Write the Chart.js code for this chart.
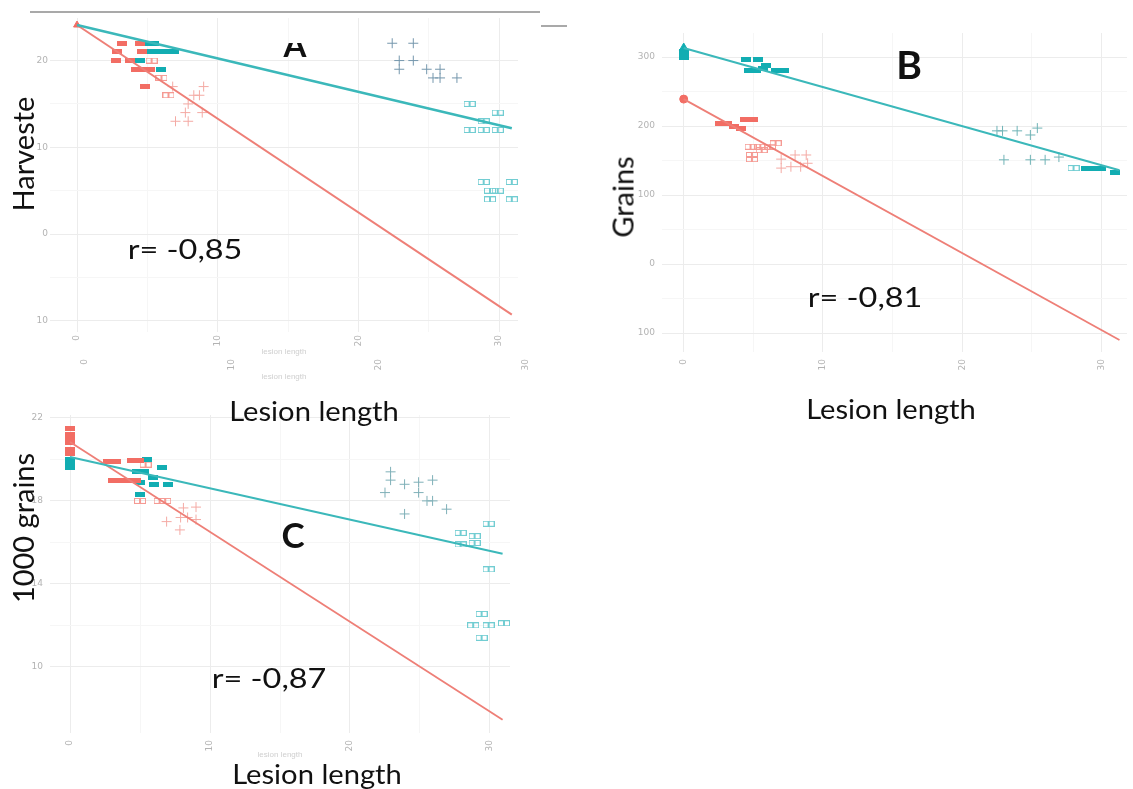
<!DOCTYPE html>
<html>
<head>
<meta charset="utf-8">
<script src="https://cdn.jsdelivr.net/npm/chart.js@4.4.1/dist/chart.umd.min.js"></script>
<style>
  html, body { margin: 0; padding: 0; background: #fff; }
  #page { position: relative; width: 1133px; height: 789px; overflow: hidden; background: #fff; }
  canvas { position: absolute; }
  .lbl { position: absolute; white-space: nowrap; line-height: 1; font-family: Lato, "Open Sans", sans-serif; color: #111; }
  .big { font-weight: 700; }
  .rule { position: absolute; background: #a9a9a9; height: 2px; }
</style>
</head>
<body>
<div id="page">
  <div class="rule" style="left:30px; top:11px; width:510px;"></div>
  <div class="rule" style="left:541px; top:25px; width:26px;"></div>

  <canvas id="chartA" width="530" height="392" style="left:0; top:0;"></canvas>
  <canvas id="chartB" width="533" height="392" style="left:600px; top:0;"></canvas>
  <canvas id="chartC" width="525" height="375" style="left:0; top:395px;"></canvas>

  <!-- panel A -->
  <div style="position:absolute; left:275px; top:43px; width:40px; height:15px; overflow:hidden;">
    <div class="lbl big" style="left:0; top:-15px; width:40px; text-align:center; font-size:33px;">A</div>
  </div>
  <div class="lbl" style="left:22px; top:154px; font-size:29px; transform:translate(-50%,-50%) rotate(-90deg);">Harveste</div>
  <div class="lbl" style="left:185px; top:248px; font-size:27px; transform:translate(-50%,-50%) scaleX(1.2);">r= -0,85</div>
  <div class="lbl" style="left:314px; top:410px; font-size:27px; transform:translate(-50%,-50%) scaleX(1.08);">Lesion length</div>

  <!-- panel B -->
  <div class="lbl big" style="left:909px; top:64px; font-size:39px; transform:translate(-50%,-50%);">B</div>
  <div class="lbl" style="left:622px; top:197px; font-size:29px; transform:translate(-50%,-50%) rotate(-90deg);">Grains</div>
  <div class="lbl" style="left:865px; top:296px; font-size:27px; transform:translate(-50%,-50%) scaleX(1.2);">r= -0,81</div>
  <div class="lbl" style="left:891px; top:408px; font-size:27px; transform:translate(-50%,-50%) scaleX(1.08);">Lesion length</div>

  <!-- panel C -->
  <div class="lbl big" style="left:293px; top:534px; font-size:35px; transform:translate(-50%,-50%);">C</div>
  <div class="lbl" style="left:22px; top:528px; font-size:29px; transform:translate(-50%,-50%) rotate(-90deg);">1000 grains</div>
  <div class="lbl" style="left:269px; top:677px; font-size:27px; transform:translate(-50%,-50%) scaleX(1.2);">r= -0,87</div>
  <div class="lbl" style="left:317px; top:773px; font-size:27px; transform:translate(-50%,-50%) scaleX(1.08);">Lesion length</div>
</div>

<script>
// ---- shared ticks (lesion length) ----
const lesionTicks = [0, 10, 20, 30];
const lesionTickLabels = ['0', '10', '20', '30'];

// ---- A : harvested ----
const aYTicks = [20, 10, 0, -10];
const aYTickLabels = ['20', '10', '0', '10'];
const aRedLine = [[0, 24.1], [30.9, -9.3]];
const aTealLine = [[0, 24.1], [30.9, 12.2]];
const aRedStart = [[0, 24.1]];
const aRedBars = [[3.2, 22], [4.5, 22], [2.85, 21], [4.6, 21], [2.8, 20], [3.8, 20], [4.2, 19], [4.7, 19], [5.2, 19], [4.8, 17]];
const aRedBoxes = [[5.3, 20], [6.0, 18], [6.5, 16]];
const aRedCross = [[6.8, 17], [9.0, 17], [8.3, 16], [8.7, 16], [7.9, 15], [7.7, 14], [8.9, 14], [7.0, 13], [7.9, 13]];
const aTealBars = [[4.9, 22], [5.5, 22], [5.2, 21], [5.8, 21], [6.4, 21], [6.9, 21], [4.5, 20], [5.95, 19]];
const aTealCross = [[22.4, 22], [23.9, 22], [22.9, 20], [23.9, 20], [22.9, 19], [24.85, 19], [25.8, 19], [25.3, 18], [25.8, 18], [27.0, 18]];
const aTealBoxes = [[27.9, 15], [29.9, 14], [28.9, 13], [27.9, 12], [28.9, 12], [29.9, 12], [28.9, 6], [30.9, 6], [29.35, 5], [29.9, 5], [29.35, 4], [30.9, 4]];

// ---- B : grains ----
const bYTicks = [300, 200, 100, 0, -100];
const bYTickLabels = ['300', '200', '100', '0', '100'];
const bRedLine = [[0, 239], [31.3, -110]];
const bTealLine = [[0, 313], [31.3, 136]];
const bTealStart = [[0, 313]];
const bRedStart = [[0, 239]];
const bTealBars = [[0, 308], [0, 304], [0, 300], [4.5, 297], [5.3, 297], [4.7, 281], [5.2, 281], [5.9, 288], [5.7, 284], [6.6, 281], [7.2, 281], [28.9, 139], [29.4, 139], [30.0, 139], [31.0, 133]];
const bTealBoxes = [[28.0, 139]];
const bTealCross = [[22.5, 193], [22.9, 193], [23.95, 193], [25.4, 197], [24.9, 187], [23.0, 151], [24.9, 151], [25.96, 151], [26.95, 155]];
const bRedBars = [[2.6, 204], [3.1, 204], [3.6, 200], [4.1, 197], [4.4, 209], [5.0, 209]];
const bRedBoxes = [[4.8, 170], [4.9, 158], [4.9, 152], [5.5, 170], [6.2, 170], [6.6, 175], [5.6, 165]];
const bRedCross = [[7.0, 152], [7.0, 139], [8.0, 158], [8.8, 158], [7.7, 141], [8.4, 141], [8.9, 146]];

// ---- C : 1000 grains ----
const cYTicks = [22, 18, 14, 10];
const cYTickLabels = ['22', '18', '14', '10'];
const cRedLine = [[0, 20.84], [30.9, 7.45]];
const cTealLine = [[0, 20.12], [30.9, 15.45]];
const cRedBars = [[0, 21.5], [0, 21.2], [0, 21.0], [0, 20.8], [0, 20.5], [0, 20.3], [2.7, 19.9], [3.3, 19.9], [4.4, 19.95], [4.9, 19.95], [3.1, 19.0], [3.6, 19.0], [4.1, 19.0], [4.7, 19.0]];
const cRedBoxes = [[5.4, 19.75], [5.0, 18.0], [6.4, 18.0], [6.8, 18.0]];
const cRedCross = [[8.1, 17.66], [9.0, 17.7], [6.9, 17.0], [7.9, 17.2], [8.4, 17.2], [9.0, 17.1], [7.85, 16.6]];
const cTealBars = [[0, 20.0], [0, 19.8], [0, 19.6], [5.5, 20.0], [4.8, 19.4], [5.3, 19.4], [5.9, 19.15], [6.6, 19.6], [6.0, 18.8], [7.0, 18.8], [5.0, 18.3], [5.0, 18.9]];
const cTealCross = [[22.9, 19.4], [22.9, 19.0], [22.5, 18.4], [23.9, 18.8], [24.9, 18.9], [25.9, 19.0], [24.9, 18.4], [25.5, 18.0], [25.9, 18.0], [26.9, 17.6], [23.9, 17.37]];
const cTealBoxes = [[29.9, 16.9], [27.9, 16.46], [28.9, 16.3], [27.9, 15.9], [28.9, 15.97], [29.9, 14.7], [29.4, 12.55], [28.8, 12.0], [29.9, 12.0], [31.0, 12.1], [29.4, 11.4]];

const RED = '#f26d64', RED_LIGHT = '#f59a93', RED_CROSS = '#f4aaa4', RED_LINE = '#ee7f77';
const TEAL = '#12adb2', TEAL_LIGHT = '#72cdd2', TEAL_LINE = '#3bb8ba';
const TICK_COLOR = '#b3b3b3';

// small canvases used as point glyphs
function marker(kind, color) {
    const c = document.createElement('canvas');
    const g = c.getContext('2d');
    if (kind === 'bar') {
        c.width = 10; c.height = 5;
        g.fillStyle = color;
        g.fillRect(0, 0, 10, 5);
    } else {
        c.width = 12; c.height = 6;
        g.strokeStyle = color;
        g.lineWidth = 1;
        g.strokeRect(0.5, 0.5, 5, 5);
        g.strokeRect(6.5, 0.5, 5, 5);
    }
    return c;
}

const pts = arr => arr.map(([x, y]) => ({ x, y }));

function line(arr, color, width) {
    return { data: pts(arr), showLine: true, borderColor: color, borderWidth: width, pointRadius: 0, fill: false };
}
function glyphs(arr, kind, color) {
    return { data: pts(arr), pointStyle: marker(kind, color), pointRadius: 5 };
}
function crosses(arr, color) {
    return { data: pts(arr), pointStyle: 'cross', pointRadius: 5, borderColor: color, borderWidth: 1 };
}
function solid(arr, style, color, r) {
    return { data: pts(arr), pointStyle: style, pointRadius: r, backgroundColor: color, borderColor: color, borderWidth: 1 };
}

// majors plus the halfway lines (ggplot minor grid)
function withMinors(majors) {
    const out = [...majors];
    for (let i = 0; i < majors.length - 1; i++) out.push((majors[i] + majors[i + 1]) / 2);
    return out.sort((a, b) => a - b);
}

function xAxis(o) {
    return {
        type: 'linear', position: 'bottom', min: o.min, max: o.max, weight: o.weight || 0,
        afterBuildTicks: s => { s.ticks = (o.grid ? withMinors(lesionTicks) : lesionTicks).map(v => ({ value: v })); },
        afterFit: s => { s.height = o.height; s.paddingLeft = 0; s.paddingRight = 0; },
        ticks: {
            minRotation: 90, maxRotation: 90, autoSkip: false, padding: o.pad,
            color: TICK_COLOR, font: { family: 'DejaVu Sans', size: 9 },
            callback: v => { const i = lesionTicks.indexOf(v); return i < 0 ? '' : lesionTickLabels[i]; }
        },
        grid: {
            display: !!o.grid, drawTicks: false,
            color: c => lesionTicks.includes(c.tick.value) ? '#ececec' : '#f6f6f6'
        },
        border: { display: false },
        title: o.title ? { display: true, text: 'lesion length', color: '#cfcfcf', font: { size: 8 }, padding: { top: 0, bottom: o.titlePad } } : { display: false }
    };
}

function yAxis(o) {
    return {
        type: 'linear', min: o.min, max: o.max,
        afterBuildTicks: s => { s.ticks = withMinors(o.ticks.slice().sort((a, b) => a - b)).map(v => ({ value: v })); },
        afterFit: s => { s.width = o.width; s.paddingTop = 0; s.paddingBottom = 0; },
        ticks: {
            padding: o.pad, color: TICK_COLOR, font: { family: 'DejaVu Sans', size: 9 },
            callback: v => { const i = o.ticks.indexOf(v); return i < 0 ? '' : o.labels[i]; }
        },
        grid: { drawTicks: false, color: c => o.ticks.includes(c.tick.value) ? '#ececec' : '#f6f6f6' },
        border: { display: false }
    };
}

function makePanel(id, padding, scales, datasets) {
    new Chart(document.getElementById(id), {
        type: 'scatter',
        data: { datasets },
        options: {
            responsive: false, animation: false, events: [],
            layout: { padding },
            plugins: { legend: { display: false }, tooltip: { enabled: false } },
            scales
        }
    });
}

// A
makePanel('chartA', { left: 0, top: 18, right: 12, bottom: 0 }, {
    x: xAxis({ min: -1.92, max: 31.34, height: 25, pad: 3, grid: true, title: true, titlePad: 0 }),
    x2: xAxis({ min: -2.39, max: 29.51, height: 35, pad: 2, weight: 1, title: true, titlePad: 10 }),
    y: yAxis({ min: -11.3, max: 24.91, ticks: aYTicks, labels: aYTickLabels, width: 50, pad: 2 })
}, [
    line(aTealLine, TEAL_LINE, 2.5),
    line(aRedLine, RED_LINE, 2),
    solid(aRedStart, 'triangle', RED, 4),
    glyphs(aRedBars, 'bar', RED),
    glyphs(aRedBoxes, 'box', RED_LIGHT),
    crosses(aRedCross, RED_CROSS),
    glyphs(aTealBars, 'bar', TEAL),
    crosses(aTealCross, '#7597ad'),
    glyphs(aTealBoxes, 'box', TEAL_LIGHT)
]);

// B
makePanel('chartB', { left: 0, top: 33, right: 0, bottom: 0 }, {
    x: xAxis({ min: -1.56, max: 31.84, height: 40, pad: 7, grid: true }),
    y: yAxis({ min: -127.5, max: 334.8, ticks: bYTicks, labels: bYTickLabels, width: 62, pad: 7 })
}, [
    line(bTealLine, TEAL_LINE, 2),
    line(bRedLine, RED_LINE, 1.8),
    solid(bTealStart, 'triangle', TEAL, 5),
    solid(bRedStart, 'circle', RED, 4),
    glyphs(bTealBars, 'bar', TEAL),
    glyphs(bTealBoxes, 'box', TEAL_LIGHT),
    crosses(bTealCross, '#6fb3b6'),
    glyphs(bRedBars, 'bar', RED),
    glyphs(bRedBoxes, 'box', RED_LIGHT),
    crosses(bRedCross, RED_CROSS)
]);

// C
makePanel('chartC', { left: 0, top: 20, right: 15, bottom: 0 }, {
    x: xAxis({ min: -1.43, max: 31.43, height: 37, pad: 7, grid: true, title: true, titlePad: 10 }),
    y: yAxis({ min: 6.81, max: 22.14, ticks: cYTicks, labels: cYTickLabels, width: 50, pad: 7 })
}, [
    line(cTealLine, TEAL_LINE, 2),
    line(cRedLine, RED_LINE, 1.8),
    glyphs(cRedBars, 'bar', RED),
    glyphs(cRedBoxes, 'box', RED_LIGHT),
    crosses(cRedCross, RED_CROSS),
    glyphs(cTealBars, 'bar', TEAL),
    crosses(cTealCross, '#7fb0b8'),
    glyphs(cTealBoxes, 'box', TEAL_LIGHT)
]);
</script>
</body>
</html>
